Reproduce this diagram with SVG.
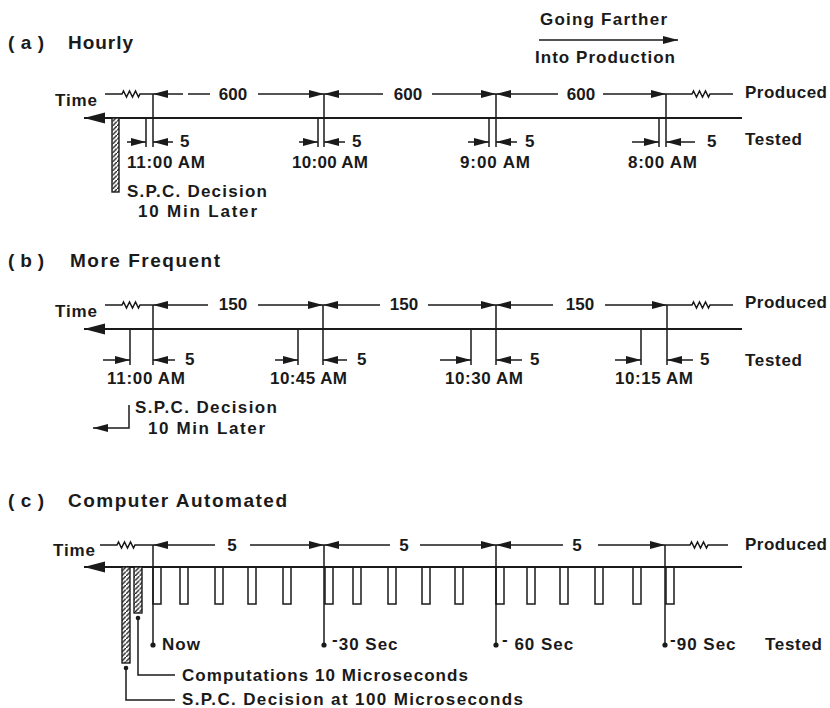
<svg xmlns="http://www.w3.org/2000/svg" width="830" height="708" viewBox="0 0 830 708">
<style>
text{font-family:"Liberation Sans",Arial,sans-serif;font-weight:bold;fill:#1a1a1a;font-size:17px}
.title{font-size:19px}
.mid{text-anchor:middle}
.sec{letter-spacing:1px}
.ln{fill:none;stroke:#1a1a1a;stroke-width:1.5}
.ax{fill:none;stroke:#1a1a1a;stroke-width:2}
.ar{fill:none;stroke:#1a1a1a;stroke-width:1.5;marker-end:url(#ah)}
.bar{fill:url(#hatch);stroke:#1a1a1a;stroke-width:1.4}
.dot{fill:#1a1a1a}
</style>
<defs>
<marker id="ah" markerUnits="userSpaceOnUse" markerWidth="16" markerHeight="9" refX="15" refY="4.5" orient="auto"><path d="M0,0.5 L15,4.5 L0,8.5 z" fill="#1a1a1a"/></marker>
<marker id="big" markerUnits="userSpaceOnUse" markerWidth="22" markerHeight="12" refX="21" refY="6" orient="auto"><path d="M0,0.5 L21,6 L0,11.5 z" fill="#1a1a1a"/></marker>
<pattern id="hatch" patternUnits="userSpaceOnUse" width="4.5" height="4.5"><rect width="4.5" height="4.5" fill="#fff"/><path d="M-1,5.5 L5.5,-1" stroke="#1a1a1a" stroke-width="1.4"/></pattern>
</defs>

<g id="direction">
<text x="540" y="25" textLength="127">Going Farther</text>
<path class="ar" d="M539,40 H678"/>
<text x="535" y="63" textLength="140">Into Production</text>
</g>

<g id="section-a">
<text class="title" x="8" y="49" textLength="36">( a )</text>
<text class="title" x="68" y="49" textLength="65">Hourly</text>
<text x="55" y="106" textLength="42">Time</text>
<text x="745" y="98" textLength="82">Produced</text>
<text x="745" y="145" textLength="57">Tested</text>
<g id="a-connectors">
<path class="ax" d="M742,118 H84" marker-end="url(#big)"/>
<path class="ln" d="M105,94 H122 l1.5,-3 l3,6 l3,-6 l3,6 l3,-6 l3,6 l1.5,-3 H153"/>
<path class="ln" d="M666,94 H692 l1.5,-3 l3,6 l3,-6 l3,6 l3,-6 l3,6 l1.5,-3 H733"/>
<path class="ar" d="M183,94 H153"/><path class="ln" d="M188,94 H210"/><path class="ar" d="M258,94 H324"/>
<path class="ar" d="M383,94 H324"/><path class="ar" d="M432,94 H496"/>
<path class="ar" d="M558,94 H496"/><path class="ar" d="M603,94 H666"/>
<path class="ln" d="M153,94 V147 M324,94 V147 M496,94 V147 M666,94 V147"/>
<path class="ln" d="M146,118 V147 M318,118 V147 M489,118 V147 M659,118 V147"/>
<path class="ar" d="M127,142 H146"/><path class="ar" d="M173,142 H153"/>
<path class="ar" d="M299,142 H318"/><path class="ar" d="M345,142 H324"/>
<path class="ar" d="M468,142 H489"/><path class="ar" d="M517,142 H496"/>
<path class="ar" d="M632,142 H659"/><path class="ar" d="M695,142 H666"/>
</g>
<text class="mid" x="233" y="100">600</text>
<text class="mid" x="408" y="100">600</text>
<text class="mid" x="581" y="100">600</text>
<text x="180" y="147">5</text><text x="352" y="147">5</text><text x="525" y="147">5</text><text x="707" y="147">5</text>
<text x="127" y="168" textLength="78">11:00 AM</text>
<text x="292" y="168" textLength="76">10:00 AM</text>
<text x="460" y="168" textLength="70">9:00 AM</text>
<text x="628" y="168" textLength="69">8:00 AM</text>
<g id="a-decision">
<rect class="bar" x="112" y="118" width="7" height="74"/>
<text x="127" y="197" textLength="140">S.P.C. Decision</text>
<text x="138" y="217" textLength="119">10 Min Later</text>
</g>
</g>

<g id="section-b">
<text class="title" x="8" y="267" textLength="36">( b )</text>
<text class="title" x="70" y="267" textLength="150">More Frequent</text>
<text x="55" y="317" textLength="42">Time</text>
<text x="745" y="308" textLength="82">Produced</text>
<text x="745" y="366" textLength="57">Tested</text>
<g id="b-connectors">
<path class="ax" d="M742,329 H84" marker-end="url(#big)"/>
<path class="ln" d="M105,305 H122 l1.5,-3 l3,6 l3,-6 l3,6 l3,-6 l3,6 l1.5,-3 H153"/>
<path class="ln" d="M667,305 H692 l1.5,-3 l3,6 l3,-6 l3,6 l3,-6 l3,6 l1.5,-3 H733"/>
<path class="ar" d="M208,305 H153"/><path class="ar" d="M258,305 H323"/>
<path class="ar" d="M380,305 H323"/><path class="ar" d="M428,305 H496"/>
<path class="ar" d="M553,305 H496"/><path class="ar" d="M605,305 H667"/>
<path class="ln" d="M153,305 V365 M323,305 V365 M496,305 V365 M667,305 V365"/>
<path class="ln" d="M130,329 V365 M298,329 V365 M471,329 V365 M641,329 V365"/>
<path class="ar" d="M103,360 H130"/><path class="ar" d="M175,360 H153"/>
<path class="ar" d="M275,360 H298"/><path class="ar" d="M347,360 H323"/>
<path class="ar" d="M440,360 H471"/><path class="ar" d="M522,360 H496"/>
<path class="ar" d="M615,360 H641"/><path class="ar" d="M693,360 H667"/>
</g>
<text class="mid" x="233" y="310">150</text>
<text class="mid" x="404" y="310">150</text>
<text class="mid" x="580" y="310">150</text>
<text x="185" y="365">5</text><text x="357" y="365">5</text><text x="530" y="365">5</text><text x="700" y="365">5</text>
<text x="107" y="384" textLength="78">11:00 AM</text>
<text x="270" y="384" textLength="77">10:45 AM</text>
<text x="445" y="384" textLength="78">10:30 AM</text>
<text x="615" y="384" textLength="78">10:15 AM</text>
<g id="b-decision">
<path class="ar" d="M129,405 V428 H93"/>
<text x="135" y="413" textLength="142">S.P.C. Decision</text>
<text x="148" y="434" textLength="117">10 Min Later</text>
</g>
</g>

<g id="section-c">
<text class="title" x="8" y="507" textLength="36">( c )</text>
<text class="title" x="68" y="507" textLength="219">Computer Automated</text>
<text x="53" y="556" textLength="42">Time</text>
<text x="745" y="550" textLength="82">Produced</text>
<text x="765" y="650" textLength="57">Tested</text>
<g id="c-connectors">
<path class="ax" d="M742,567 H84" marker-end="url(#big)"/>
<path class="ln" d="M100,545 H117 l1.5,-3 l3,6 l3,-6 l3,6 l3,-6 l3,6 l1.5,-3 H153"/>
<path class="ln" d="M665,545 H690 l1.5,-3 l3,6 l3,-6 l3,6 l3,-6 l3,6 l1.5,-3 H728"/>
<path class="ar" d="M215,545 H153"/><path class="ar" d="M250,545 H324"/>
<path class="ar" d="M390,545 H324"/><path class="ar" d="M420,545 H496"/>
<path class="ar" d="M563,545 H496"/><path class="ar" d="M598,545 H665"/>
<path class="ln" d="M153,545 V645 M324,545 V645 M496,545 V645 M665,545 V645"/>
<circle class="dot" cx="153" cy="645" r="2.6"/><circle class="dot" cx="324" cy="645" r="2.6"/>
<circle class="dot" cx="496" cy="645" r="2.6"/><circle class="dot" cx="665" cy="645" r="2.6"/>
<path class="ln" d="M153,567 V604 H161 V567 M180,567 V604 H188 V567 M215,567 V604 H223 V567 M248,567 V604 H256 V567 M283,567 V604 H291 V567 M325,567 V604 H333 V567 M353,567 V604 H361 V567 M388,567 V604 H396 V567 M422,567 V604 H430 V567 M455,567 V604 H463 V567 M496,567 V604 H504 V567 M527,567 V604 H535 V567 M560,567 V604 H568 V567 M595,567 V604 H603 V567 M633,567 V604 H641 V567 M666,567 V604 H674 V567"/>
</g>
<text class="mid" x="232" y="551">5</text>
<text class="mid" x="404" y="551">5</text>
<text class="mid" x="577" y="551">5</text>
<text x="162" y="650" textLength="38">Now</text>
<text class="sec" x="332" y="650"><tspan dy="-5">-</tspan><tspan dy="5">30 Sec</tspan></text>
<text class="sec" x="502" y="650"><tspan dy="-5">-</tspan><tspan dy="5"> 60 Sec</tspan></text>
<text class="sec" x="670" y="650"><tspan dy="-5">-</tspan><tspan dy="5">90 Sec</tspan></text>
<g id="c-computations">
<rect class="bar" x="134" y="567" width="8" height="46"/>
<circle class="dot" cx="138" cy="618" r="2.3"/>
<path class="ln" d="M138,618 V675 H175"/>
<text x="182" y="681" textLength="286">Computations 10 Microseconds</text>
</g>
<g id="c-decision">
<rect class="bar" x="122" y="567" width="8" height="96"/>
<circle class="dot" cx="126" cy="668" r="2.3"/>
<path class="ln" d="M126,668 V700 H175"/>
<text x="182" y="705" textLength="341">S.P.C. Decision at 100 Microseconds</text>
</g>
</g>
</svg>
